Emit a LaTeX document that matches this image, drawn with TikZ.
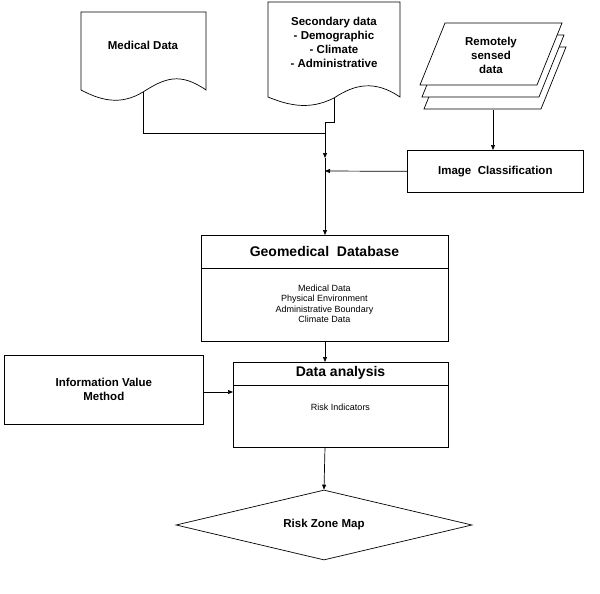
\documentclass[tikz,border=0pt]{standalone}
\usepackage{fontspec}
\setmainfont{Liberation Sans}
\usetikzlibrary{arrows.meta,shapes.geometric}
\begin{document}
\begin{tikzpicture}[x=1pt,y=-1pt,line width=0.7pt,
  box/.style={draw,rectangle,anchor=north west,inner sep=0pt},
  lbl/.style={font=\bfseries\fontsize{11.5}{14}\selectfont,align=center},
  small/.style={font=\fontsize{9}{10.5}\selectfont,align=center},
  arr/.style={-{Triangle[length=5pt,width=4pt]}}]
\useasboundingbox[fill=white] (0,0) rectangle (600,594);
% Medical data document
\draw[fill=white] (81,12) -- (206,12) -- (206,90) .. controls (180,72) and (165,78) .. (143,92) .. controls (120,106) and (100,100) .. (81,90) -- cycle;
\node[lbl] (med) at (143,45) {Medical Data};
\coordinate (medb) at (143,92);
% Secondary data document
\draw[fill=white] (268,2) -- (400,2) -- (400,97) .. controls (375,80) and (355,84) .. (334,98) .. controls (310,110) and (290,106) .. (268,97) -- cycle;
\node[lbl] (sec) at (334,42) {Secondary data\\- Demographic\\- Climate\\- Administrative};
\coordinate (secb) at (334,98);
% Remotely sensed stack
\draw[fill=white] (424,109) -- (449,47) -- (566,47) -- (541,109) -- cycle;
\draw[fill=white] (422,97) -- (447,35) -- (564,35) -- (539,97) -- cycle;
\draw[fill=white] (420,85) -- (445,23) -- (562,23) -- (537,85) -- cycle;
\node[lbl] (rs) at (491,55) {Remotely\\sensed\\data};
\coordinate (rsb) at (493,110);
% Image classification
\node[box,minimum width=176pt,minimum height=42pt,lbl] (ic) at (407,150) {Image\ \ Classification};
% junctions
\coordinate (j1) at (325,133);
\coordinate (j2) at (325,122);
\coordinate (j3) at (325,171);
% Geomedical database
\node[box,minimum width=247pt,minimum height=106pt] (geo) at (201,235) {};
\draw (201,268) -- (448,268);
\node[font=\bfseries\fontsize{14}{16}\selectfont] (geot) at (324.5,251) {Geomedical\ \ Database};
\node[small] (geoc) at (324.5,304) {Medical Data\\Physical Environment\\Administrative Boundary\\Climate Data};
% Information Value Method
\node[box,minimum width=199pt,minimum height=69pt,lbl] (ivm) at (4,355) {Information Value\\Method};
% Data analysis
\node[box,minimum width=215pt,minimum height=85pt] (da) at (233,362) {};
\draw (233,385) -- (448,385);
\node[font=\bfseries\fontsize{14}{16}\selectfont] (dat) at (340.5,373) {Data analysis};
\node[small] (dac) at (340.5,407) {Risk Indicators};
% Diamond
\node[draw,diamond,aspect=4.2,minimum width=296pt,minimum height=70pt,inner sep=0pt] (map) at (324,525) {};
\node[lbl] (mapt) at (324,525) {Risk Zone Map};
% connectors
\draw (medb) |- (j1);
\draw (secb) |- (j2);
\draw[arr] (j2) -- (325,158);
\draw[arr] (325,158) -- (325,235);
\draw[arr] (rsb) -- (ic.north -| rsb);
\draw[arr] (ic.west) -- (j3);
\draw[arr] (325,341) -- (325,362);
\draw[arr] (ivm.east |- 0,392) -- (da.west |- 0,392);
\draw[arr] (325,447) -- (map.north);
\end{tikzpicture}
\end{document}
